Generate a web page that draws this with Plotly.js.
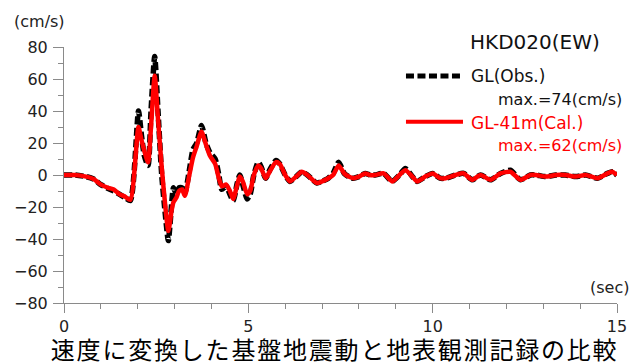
<!DOCTYPE html>
<html>
<head>
<meta charset="utf-8">
<script src="https://cdn.plot.ly/plotly-3.0.1.min.js"></script>
<style>
html,body{margin:0;padding:0;background:#fff;}
#chart{width:629px;height:364px;}
#chart .gtitle{letter-spacing:1.8px;}
</style>
</head>
<body>
<div id="chart"></div>
<script>
// time (sec)
var timeSec = [0.0,0.3,0.6,0.8,1.0,1.2,1.35,1.5,1.65,1.8,2.02,2.1,2.18,2.28,2.36,2.46,2.55,2.65,2.75,2.83,2.92,2.97,3.05,3.12,3.2,3.28,3.4,3.5,3.6,3.73,3.85,3.96,4.1,4.2,4.28,4.4,4.5,4.59,4.7,4.77,4.85,4.97,5.05,5.15,5.27,5.35,5.47,5.6,5.75,5.85,6.0,6.13,6.3,6.45,6.6,6.86,7.0,7.17,7.3,7.45,7.6,7.72,7.85,8.0,8.17,8.3,8.44,8.67,8.9,9.1,9.26,9.45,9.58,9.8,10.0,10.2,10.35,10.62,10.84,11.07,11.3,11.57,11.84,12.11,12.38,12.65,12.8,13.06,13.34,13.6,13.88,14.15,14.47,14.74,14.87,15.0];
// GL (Obs.) velocity (cm/s)
var obsVel = [0,0,-1,-2.5,-6,-8.5,-10,-12,-14,-16,40,25,12,6,40,74,40,0,-25,-41,-18,-8,-12,-8,-8,-11,3,16,20,31,20,14,10,0,-9,-7,-12,-16,-5,0,-6,-15,-12,0,8,5,-2,4,9,7,0,-4,-1,2,0,-5,-4,-2,1,8,1,-1,-2,-1,1,0,0,1,-4,0,4,-1,-4,-1,1,-2,-2,0,1,-3,0,-3,1,3,-3,0,0,-1,0,0,-1,0,-2,1,2,0];
// GL-41m (Cal.) velocity (cm/s)
var calVel = [0,0,-1,-2.5,-6,-8,-9,-12,-13.5,-15.5,30,22,15,8,30,62,35,5,-20,-35,-22,-17,-14,-10,-9,-13,0,11,18,27,19,12,7,-2,-7,-6,-10,-15,-6,-1,-4,-12,-10,0,6,4,-2,3,8,7,0,-4,-1,2,0,-5,-4,-2,0,6,1,-1,-2,-1,1,0,0,1,-4,0,3,-1,-4,-1,1,-2,-2,0,1,-3,0,-3,1,2,-3,0,0,-1,0,0,-1,0,-2,1,2,0];

var seriesNames = ['GL(Obs.)', 'GL-41m(Cal.)'];
var maxLabels = ['max.=74(cm/s)', 'max.=62(cm/s)'];
var stationLabel = 'HKD020(EW)';
var chartTitle = '速度に変換した基盤地震動と地表観測記録の比較';

var latin = 'DejaVu Sans, Arial, sans-serif';

var traces = [
  {x: timeSec, y: obsVel, name: seriesNames[0], mode: 'lines',
   line: {color: '#000000', width: 5.5, dash: '8px,3.5px', shape: 'spline', smoothing: 0.6},
   showlegend: false, hoverinfo: 'skip'},
  {x: timeSec, y: calVel, name: seriesNames[1], mode: 'lines',
   line: {color: '#ff0000', width: 4.5, shape: 'spline', smoothing: 0.6},
   showlegend: false, hoverinfo: 'skip'}
];

var axisCol = '#8a8a8a';
var layout = {
  width: 629, height: 364,
  margin: {l: 64, r: 12, t: 47, b: 61, pad: 0},
  paper_bgcolor: '#ffffff', plot_bgcolor: '#ffffff',
  font: {family: latin, color: '#222222', size: 16},
  title: {text: chartTitle, x: 0.532, xref: 'container', xanchor: 'center', y: 0.036, yref: 'container', yanchor: 'middle',
          font: {family: 'Noto Sans CJK JP, sans-serif', size: 24, color: '#000000'}},
  xaxis: {range: [0, 15], tickvals: [0, 5, 10, 15], ticks: 'outside', ticklen: 9, tickwidth: 1, tickcolor: axisCol,
          showline: true, linecolor: axisCol, linewidth: 1, showgrid: false, zeroline: false,
          tickfont: {family: latin, size: 16, color: '#222222'}, ticklabelstandoff: 0,
          minor: {dtick: 1, ticks: 'outside', ticklen: 5, tickcolor: axisCol, showgrid: false}},
  yaxis: {range: [-80, 80], dtick: 20, tick0: 0, ticks: 'outside', ticklen: 10, tickwidth: 1, tickcolor: axisCol,
          showline: true, linecolor: axisCol, linewidth: 1, showgrid: false, zeroline: false,
          tickfont: {family: latin, size: 16, color: '#222222'}, ticklabelstandoff: 2,
          minor: {dtick: 10, ticks: 'outside', ticklen: 5, tickcolor: axisCol, showgrid: false}},
  shapes: [
    {type: 'line', xref: 'paper', yref: 'paper', x0: 0.6184, x1: 0.7215, y0: 0.8867, y1: 0.8867,
     line: {color: '#000000', width: 5, dash: '8px,3.5px'}},
    {type: 'line', xref: 'paper', yref: 'paper', x0: 0.6184, x1: 0.7215, y0: 0.708, y1: 0.708,
     line: {color: '#ff0000', width: 4}}
  ],
  annotations: [
    {text: '(cm/s)', xref: 'paper', yref: 'paper', x: -0.094, y: 1.0996, xanchor: 'left', yanchor: 'middle',
     showarrow: false, font: {family: latin, size: 16, color: '#222222'}},
    {text: '(sec)', xref: 'paper', yref: 'paper', x: 0.9476, y: 0.0586, xanchor: 'left', yanchor: 'middle',
     showarrow: false, font: {family: latin, size: 16, color: '#222222'}},
    {text: stationLabel, xref: 'paper', yref: 'paper', x: 0.7306, y: 1.0195, xanchor: 'left', yanchor: 'middle',
     showarrow: false, font: {family: latin, size: 20, color: '#111111'}},
    {text: seriesNames[0], xref: 'paper', yref: 'paper', x: 0.7324, y: 0.8867, xanchor: 'left', yanchor: 'middle',
     showarrow: false, font: {family: latin, size: 17, color: '#111111'}},
    {text: maxLabels[0], xref: 'paper', yref: 'paper', x: 0.7812, y: 0.793, xanchor: 'left', yanchor: 'middle',
     showarrow: false, font: {family: latin, size: 16, color: '#111111'}},
    {text: seriesNames[1], xref: 'paper', yref: 'paper', x: 0.7324, y: 0.703, xanchor: 'left', yanchor: 'middle',
     showarrow: false, font: {family: latin, size: 17, color: '#ff0000'}},
    {text: maxLabels[1], xref: 'paper', yref: 'paper', x: 0.7812, y: 0.617, xanchor: 'left', yanchor: 'middle',
     showarrow: false, font: {family: latin, size: 16, color: '#ff0000'}}
  ]
};

Plotly.newPlot('chart', traces, layout, {displayModeBar: false, staticPlot: true});
</script>
</body>
</html>
